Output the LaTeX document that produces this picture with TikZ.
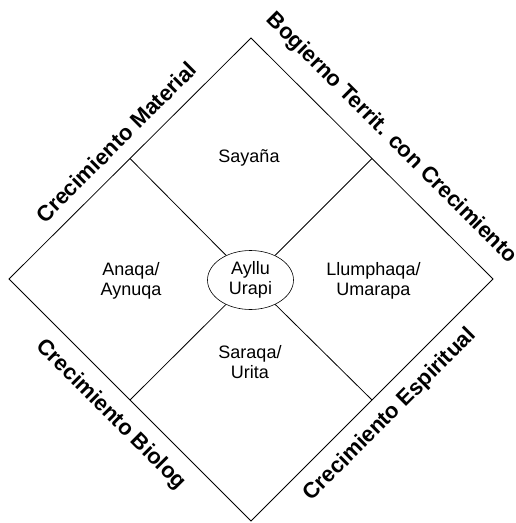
\documentclass[tikz,border=0pt]{standalone}
\usepackage{fontspec}
\setmainfont{Liberation Sans}
\usetikzlibrary{shapes.geometric}
\begin{document}
\begin{tikzpicture}[x=1pt,y=-1pt,line width=0.8pt,
  cell/.style={align=center,font=\fontsize{18}{20}\selectfont,inner sep=0pt},
  edgelabel/.style={font=\fontsize{22}{24}\bfseries\selectfont,inner sep=0pt},
  hub/.style={draw,ellipse,minimum width=86pt,minimum height=59pt,inner sep=0pt,line width=0.6pt,
    align=center,font=\fontsize{18}{20}\selectfont}]
\useasboundingbox (0,0) rectangle (515,523);
% diamond vertices
\coordinate (T) at (251,38);
\coordinate (R) at (493,279);
\coordinate (B) at (251,521);
\coordinate (L) at (9,279);
% edge midpoints
\coordinate (TL) at (130,158.5);
\coordinate (TR) at (372,158.5);
\coordinate (BR) at (372,400);
\coordinate (BL) at (130,400);
\draw (T) -- (R) -- (B) -- (L) -- cycle;
\node[hub] (C) at (250.5,280) {Ayllu\\Urapi};
\draw (TL) -- (C);
\draw (TR) -- (C);
\draw (BR) -- (C);
\draw (BL) -- (C);
% cell texts
\node[cell] (say) at (249,158) {Sayaña};
\node[cell] (ana) at (131,281) {Anaqa/\\Aynuqa};
\node[cell] (llu) at (373.5,281) {Llumphaqa/\\Umarapa};
\node[cell] (sar) at (250,362) {Saraqa/\\Urita};
% edge labels
\node[edgelabel,rotate=45] (mat) at (116,142) {Crecimiento Material};
\node[edgelabel,rotate=-45] (bog) at (391.5,138.5) {Bogierno Territ. con Crecimiento};
\node[edgelabel,rotate=-45] (bio) at (111,415) {Crecimiento Biolog};
\node[edgelabel,rotate=45] (esp) at (390,415) {Crecimiento Espiritual};
\end{tikzpicture}
\end{document}
